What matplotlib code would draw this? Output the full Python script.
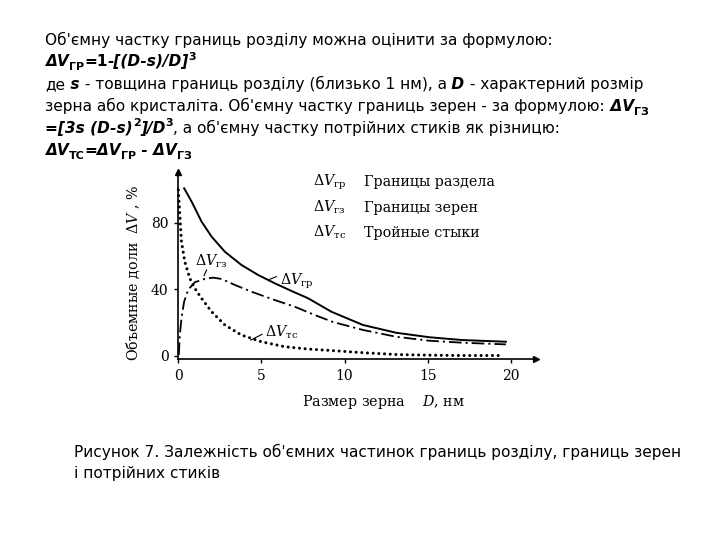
import matplotlib
matplotlib.use('Agg')
import matplotlib.pyplot as plt

W, H = 720, 540

# значення: D, нм  /  ΔV, %
d_gr = [0.35, 0.8, 1.4, 2.0, 2.8, 3.8, 4.8, 5.8, 6.8, 7.8, 9.2, 11.1, 13.1, 15.1, 17.1, 19.7]
v_gr = [100.7, 92.7, 80.6, 71.6, 62.5, 54.5, 48.5, 43.5, 38.9, 34.5, 26.4, 18.4, 13.7, 11.0, 9.3, 8.3]

d_gz = [0.03, 0.09, 0.19, 0.35, 0.59, 0.99, 1.59, 2.09, 2.6, 3.4, 4.4, 5.8, 7.0, 8.2, 9.3, 11.1, 13.1, 15.1, 17.1, 19.7]
v_gz = [0.3, 12.3, 22.4, 32.4, 39.5, 44.1, 46.1, 46.9, 46.1, 42.5, 38.4, 33.4, 29.4, 24.4, 20.2, 15.4, 11.3, 8.9, 7.7, 6.7]

d_ts = [0.0, 0.09, 0.19, 0.39, 0.69, 0.99, 1.39, 2.0, 2.8, 3.8, 5.0, 6.4, 7.8, 9.2, 11.1, 13.1, 15.1, 17.1, 19.5]
v_ts = [99.7, 84.6, 68.6, 56.5, 46.5, 40.5, 34.5, 26.4, 18.4, 12.3, 8.3, 5.3, 3.9, 3.0, 1.7, 0.6, 0.2, 0.0, 0.0]

x_ticks = [0, 5, 10, 15, 20]
y_ticks = [0, 40, 80]

leg_sub = ['гр', 'гз', 'тс']
leg_text = ['Границы раздела', 'Границы зерен', 'Тройные стыки']
leg_y = [102.1, 86.7, 71.6]

plt.rcParams['mathtext.fontset'] = 'dejavuserif'

fig = plt.figure(figsize=(7.2, 5.4), dpi=100)
ren = fig.canvas.get_renderer()

SANS = 'DejaVu Sans'
SERIF = 'DejaVu Serif'
FS = 11.1


def runs(x, y, parts):
    # пише рядок шматками різного стилю, y - базова лінія в пікселях згори
    for txt, k in parts:
        fs, dy, weight, style = FS, 0, 'normal', 'normal'
        if k == 'bi':
            weight, style = 'bold', 'italic'
        elif k == 'b':
            weight = 'bold'
        elif k == 'sub':
            weight, fs, dy = 'bold', FS * 0.72, 4
        elif k == 'sup':
            weight, fs, dy = 'bold', FS * 0.72, -6
        t = fig.text(x / W, 1 - (y + dy) / H, txt, fontsize=fs, fontweight=weight,
                     fontstyle=style, family=SANS, va='baseline', ha='left')
        x += t.get_window_extent(ren).width


lines = [
    (44.5, [("Об'ємну частку границь розділу можна оцінити за формулою:", 'n')]),
    (66, [('ΔV', 'bi'), ('ГР', 'sub'), ('=1', 'b'), ('-[(D-s)/D]', 'bi'), ('3', 'sup')]),
    (89, [('де', 'n'), (' s', 'bi'), (' - товщина границь розділу (близько 1 нм), а', 'n'),
          (' D', 'bi'), (' - характерний розмір', 'n')]),
    (111, [("зерна або кристаліта. Об'ємну частку границь зерен - за формулою:", 'n'),
           (' ΔV', 'bi'), ('ГЗ', 'sub')]),
    (132.5, [('=[3s (D-s)', 'bi'), ('2', 'sup'), (']/D', 'bi'), ('3', 'sup'),
             (", а об'ємну частку потрійних стиків як різницю:", 'n')]),
    (155, [('ΔV', 'bi'), ('ТС', 'sub'), ('=ΔV', 'bi'), ('ГР', 'sub'), (' - ΔV', 'bi'), ('ГЗ', 'sub')]),
]
for y, parts in lines:
    runs(45, y, parts)

fig.text(74 / W, 1 - 457 / H, "Рисунок 7. Залежність об'ємних частинок границь розділу, границь зерен",
         fontsize=FS, family=SANS, va='baseline')
fig.text(74 / W, 1 - 478 / H, "і потрійних стиків", fontsize=FS, family=SANS, va='baseline')

# графік
ax = fig.add_axes([178.3 / W, 1 - 359 / H, 357.5 / W, 187 / H])
ax.plot(d_gr, v_gr, color='k', lw=1.4, clip_on=False)
ax.plot(d_gz, v_gz, color='k', lw=1.3, ls=(0, (7, 2.2, 1.2, 2.2)), clip_on=False)
ax.plot(d_ts, v_ts, color='k', lw=2.2, ls=(0, (0.01, 1.85)), dash_capstyle='round', clip_on=False)

ax.set_xlim(0, 21.5)
ax.set_ylim(-2.1, 110.5)
ax.spines['top'].set_visible(False)
ax.spines['right'].set_visible(False)
ax.spines['left'].set_linewidth(1.2)
ax.spines['bottom'].set_linewidth(1.2)
ax.plot(1, 0, '>k', transform=ax.transAxes, clip_on=False, ms=5)
ax.plot(0, 1, '^k', transform=ax.transAxes, clip_on=False, ms=5)

ax.set_xticks(x_ticks)
ax.set_yticks(y_ticks)
ax.tick_params(direction='out', length=3, width=1, labelsize=10, pad=4)
for lab in ax.get_xticklabels() + ax.get_yticklabels():
    lab.set_family(SERIF)

for sub, txt, y in zip(leg_sub, leg_text, leg_y):
    ax.text(8.1, y, r'$\Delta V_{\mathrm{%s}}$' % sub, fontsize=10.3, va='baseline')
    ax.text(11.17, y, txt, fontsize=10.3, family=SERIF, va='baseline')

# підписи кривих
ax.text(6.1, 42.5, r'$\Delta V_{\mathrm{гр}}$', fontsize=10.3, va='baseline')
ax.plot([5.5, 5.9], [45.9, 47.5], color='k', lw=0.8)
ax.text(1.03, 53.9, r'$\Delta V_{\mathrm{гз}}$', fontsize=10.3, va='baseline')
ax.plot([1.70, 1.55], [51.5, 48.1], color='k', lw=0.8)
ax.text(5.2, 11.4, r'$\Delta V_{\mathrm{тс}}$', fontsize=10.3, va='baseline')
ax.plot([4.36, 5.04], [9.3, 12.8], color='k', lw=0.8)

fig.text(133 / W, 1 - 273 / H, r'Объемные доли  $\Delta V$ , %', rotation=90,
         ha='center', va='center', fontsize=10.3, family=SERIF)
fig.text(383 / W, 1 - 402 / H, r'Размер зерна    $D$, нм', ha='center', va='center',
         fontsize=10.3, family=SERIF)

fig.savefig('out.png', dpi=100)
